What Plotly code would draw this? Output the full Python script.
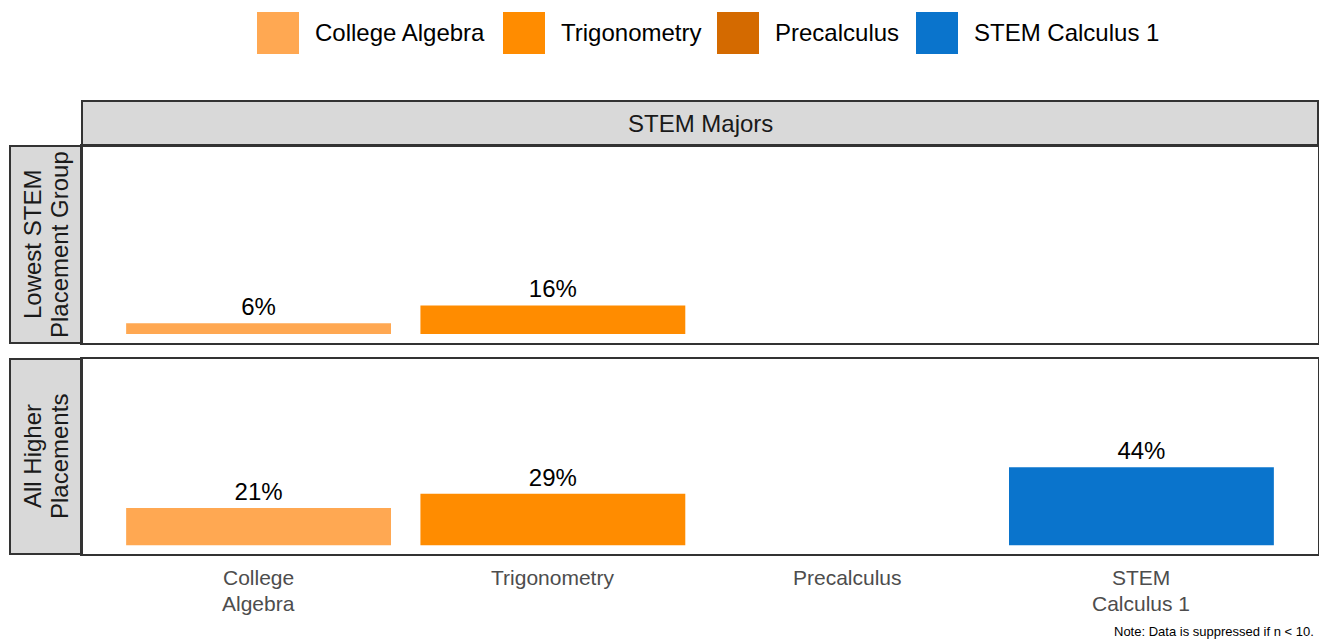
import plotly.graph_objects as go

# ---------------- data ----------------
categories = ["College Algebra", "Trigonometry", "Precalculus", "STEM Calculus 1"]
tick_labels = [["College", "Algebra"], ["Trigonometry"], ["Precalculus"], ["STEM", "Calculus 1"]]
course_colors = ["#FFA852", "#FF8C00", "#D46A00", "#0A74CC"]
lowest_group = [6, 16, None, None]
higher_group = [21, 29, None, 44]
row_labels = [["Lowest STEM", "Placement Group"], ["All Higher", "Placements"]]
col_label = "STEM Majors"
note_text = "Note: Data is suppressed if n < 10."

# ---------------- layout helpers ----------------
W, H = 1319, 639
FONT = "Liberation Sans, Arial, sans-serif"


def fx(x):
    return x / W


def fy(y):
    return 1 - y / H


panel_x = (82, 1318)
panels_y = [(146, 343), (359, 554)]
strip_top = (101, 146)
strip_left = (10, 82)
x_pos = list(range(len(categories)))

fig = go.Figure()

for i, vals in enumerate([lowest_group, higher_group]):
    ax = "" if i == 0 else str(i + 1)
    fig.add_trace(go.Bar(
        x=x_pos, y=vals,
        marker=dict(color=course_colors, line=dict(width=0)),
        width=0.9,
        text=[f"{v}%" if v is not None else "" for v in vals],
        textposition="outside",
        textfont=dict(family=FONT, size=24, color="#000000"),
        cliponaxis=False,
        showlegend=False,
        hoverinfo="skip",
        xaxis="x" + ax, yaxis="y" + ax,
    ))

axis_common = dict(
    showline=True, mirror=True, linecolor="#333333", linewidth=2,
    showgrid=False, zeroline=False, ticks="", showticklabels=False,
)

fig.update_layout(
    width=W, height=H,
    margin=dict(l=0, r=0, t=0, b=0),
    paper_bgcolor="white", plot_bgcolor="white",
    showlegend=False,
    font=dict(family=FONT),
    xaxis=dict(domain=[fx(panel_x[0]), fx(panel_x[1])], range=[-0.6, 3.6],
               anchor="y", **axis_common),
    yaxis=dict(domain=[fy(panels_y[0][1]), fy(panels_y[0][0])], range=[-5, 105],
               anchor="x", **axis_common),
    xaxis2=dict(domain=[fx(panel_x[0]), fx(panel_x[1])], range=[-0.6, 3.6],
                anchor="y2", **axis_common),
    yaxis2=dict(domain=[fy(panels_y[1][1]), fy(panels_y[1][0])], range=[-5, 105],
                anchor="x2", **axis_common),
)

shapes = []
annotations = []

# x tick labels (top aligned, tight line spacing)
tick_first_line_y = 577
tick_line_gap = 26
for xp, lines in zip(x_pos, tick_labels):
    for k, line in enumerate(lines):
        annotations.append(dict(xref="x2", yref="paper", x=xp,
                                y=fy(tick_first_line_y + k * tick_line_gap),
                                xanchor="center", yanchor="middle", text=line,
                                showarrow=False,
                                font=dict(family=FONT, size=21, color="#4D4D4D")))

# top strip
shapes.append(dict(type="rect", xref="paper", yref="paper",
                   x0=fx(panel_x[0]), x1=fx(panel_x[1]),
                   y0=fy(strip_top[1]), y1=fy(strip_top[0]),
                   fillcolor="#D9D9D9", line=dict(color="#333333", width=2), layer="below"))
annotations.append(dict(xref="paper", yref="paper",
                        x=fx((panel_x[0] + panel_x[1]) / 2), y=fy(sum(strip_top) / 2),
                        xanchor="center", yanchor="middle",
                        text=col_label, showarrow=False,
                        font=dict(family=FONT, size=24, color="#1A1A1A")))

# left strips (rotated, centred, tight line spacing)
strip_line_gap = 27
for (y0, y1), lines in zip(panels_y, row_labels):
    shapes.append(dict(type="rect", xref="paper", yref="paper",
                       x0=fx(strip_left[0]), x1=fx(strip_left[1]),
                       y0=fy(y1), y1=fy(y0),
                       fillcolor="#D9D9D9", line=dict(color="#333333", width=2), layer="below"))
    n = len(lines)
    cx = sum(strip_left) / 2
    for k, line in enumerate(lines):
        xline = cx + (k - (n - 1) / 2) * strip_line_gap
        annotations.append(dict(xref="paper", yref="paper",
                                x=fx(xline), y=fy((y0 + y1) / 2),
                                xanchor="center", yanchor="middle",
                                text=line, textangle=-90, showarrow=False,
                                font=dict(family=FONT, size=24, color="#1A1A1A")))

# manual legend with large keys
legend_key_x = [257, 503, 717, 916]
key_size = 42
key_top = 12
for kx, name, col in zip(legend_key_x, categories, course_colors):
    shapes.append(dict(type="rect", xref="paper", yref="paper",
                       x0=fx(kx), x1=fx(kx + key_size),
                       y0=fy(key_top + key_size), y1=fy(key_top),
                       fillcolor=col, line=dict(width=0)))
    annotations.append(dict(xref="paper", yref="paper",
                            x=fx(kx + key_size + 14), y=fy(key_top + key_size / 2),
                            xanchor="left", yanchor="middle",
                            text=name, showarrow=False,
                            font=dict(family=FONT, size=24, color="#000000")))

# note
annotations.append(dict(xref="paper", yref="paper", x=fx(1316), y=fy(631),
                        xanchor="right", yanchor="middle", text=note_text, showarrow=False,
                        font=dict(family=FONT, size=13, color="#000000")))

fig.update_layout(shapes=shapes, annotations=annotations)

fig.write_html("out.html", config={"displayModeBar": False},
               post_script="document.body.style.margin='0';")
